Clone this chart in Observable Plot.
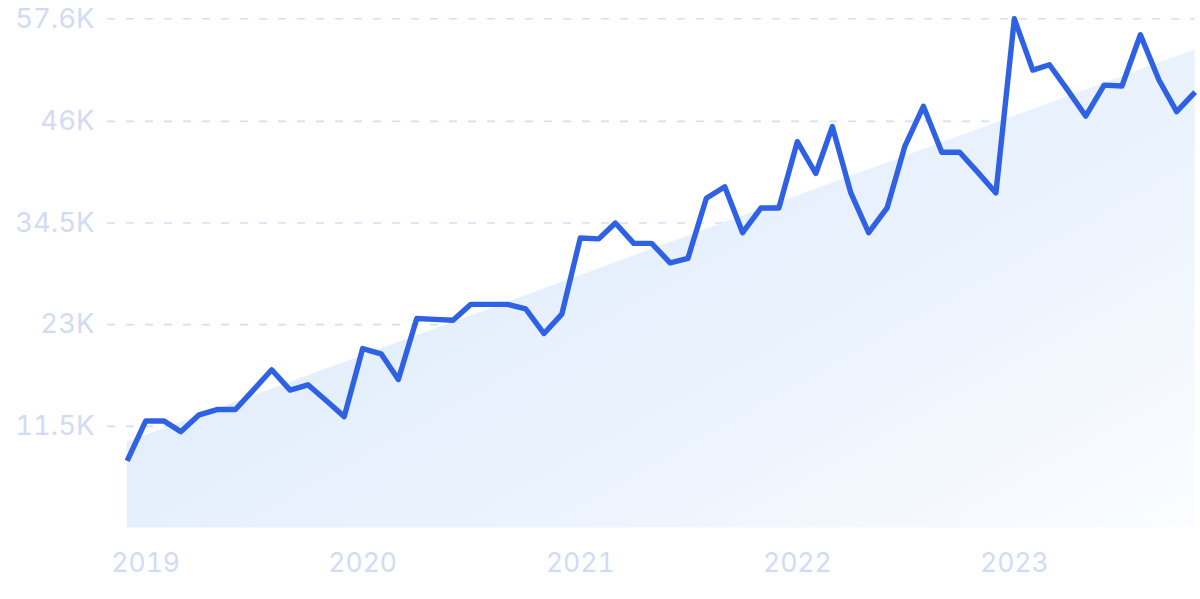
<!DOCTYPE html>
<html>
<head>
<meta charset="utf-8">
<script src="https://cdn.jsdelivr.net/npm/d3@7"></script>
<script src="https://cdn.jsdelivr.net/npm/@observablehq/plot@0.6"></script>
<style>
  html, body { margin: 0; padding: 0; background: #ffffff; }
  #chart svg { display: block; }
</style>
</head>
<body>
<div id="chart"></div>
<script>
// Monthly values, Dec 2018 .. Nov 2023
const startMonth = "2018-12-01";
const values = [
  7600, 12100, 12100, 10900, 12800, 13400, 13400, 15600, 17900, 15600,
  16200, 14400, 12600, 20300, 19700, 16800, 23700, 23600, 23500, 25300,
  25300, 25300, 24800, 22000, 24200, 32800, 32700, 34500, 32200, 32200,
  30000, 30500, 37300, 38600, 33400, 36200, 36200, 43700, 40100, 45400,
  37900, 33400, 36200, 43200, 47700, 42500, 42500, 40200, 37900, 57600,
  51800, 52400, 49500, 46600, 50100, 50000, 55800, 50700, 47100, 49300
];
// Trend band (start and end values of the shaded area)
const trendValues = [9700, 54100];
const yTicks = [11500, 23000, 34500, 46000, 57600];
const yearTicks = ["2019", "2020", "2021", "2022", "2023"];

const start = new Date(startMonth + "T00:00:00Z");
const months = values.map((_, i) => d3.utcMonth.offset(start, i));
const data = values.map((v, i) => ({date: months[i], value: v}));
const trend = [
  {date: months[0], value: trendValues[0]},
  {date: months[months.length - 1], value: trendValues[1]}
];
const xTicks = yearTicks.map(y => new Date(y + "-01-01T00:00:00Z"));

const labelColor = "#d1dbf5";

const chart = Plot.plot({
  width: 1200,
  height: 599,
  marginTop: 18.3,
  marginBottom: 71.5,
  marginLeft: 107,
  marginRight: 5.4,
  style: {fontFamily: "Inter, sans-serif", fontSize: "27px", color: labelColor, background: "#ffffff"},
  x: {type: "utc", insetLeft: 19.7, ticks: xTicks, tickFormat: d3.utcFormat("%Y"), label: null},
  y: {domain: [0, 57600], ticks: yTicks, tickFormat: d => (d / 1000) + "K", label: null},
  marks: [
    Plot.ruleY(yTicks, {stroke: "#cfe0fb", strokeWidth: 1.6, strokeDasharray: "8,11"}),
    Plot.areaY(trend, {x: "date", y: "value", fill: "url(#areaGrad)"}),
    Plot.lineY(data, {x: "date", y: "value", stroke: "#2f61e4", strokeWidth: 5.4, strokeLinejoin: "round", strokeLinecap: "butt"}),
    Plot.axisX({ticks: xTicks, tickFormat: d3.utcFormat("%Y"), tickSize: 0, tickPadding: 25.5, fill: labelColor, fontSize: 26.5, label: null}),
    Plot.axisY({ticks: yTicks, tickFormat: d => (d / 1000) + "K", tickSize: 0, tickPadding: 13, fill: labelColor, fontSize: 27.5, label: null})
  ]
});

const svg = d3.select(chart);
const defs = svg.insert("defs", ":first-child");
const grad = defs.append("linearGradient")
  .attr("id", "areaGrad")
  .attr("x1", "0").attr("y1", "0.2").attr("x2", "1").attr("y2", "1");
grad.append("stop").attr("offset", "0%").attr("stop-color", "#ddeafb");
grad.append("stop").attr("offset", "60%").attr("stop-color", "#ebf3fd");
grad.append("stop").attr("offset", "100%").attr("stop-color", "#fbfdff");

document.getElementById("chart").appendChild(chart);
</script>
</body>
</html>
